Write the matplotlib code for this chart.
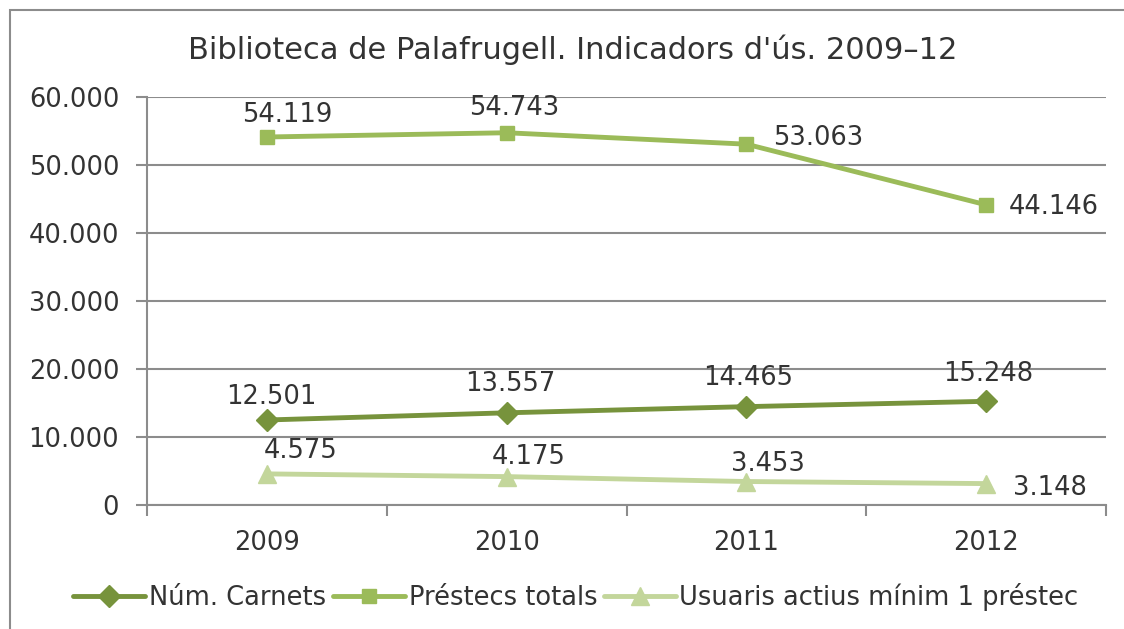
import numpy as np
import matplotlib.pyplot as plt
from matplotlib.patches import Rectangle

years = ['2009', '2010', '2011', '2012']
carnets = [12501, 13557, 14465, 15248]
prestecs = [54119, 54743, 53063, 44146]
usuaris = [4575, 4175, 3453, 3148]

series_names = ['Núm. Carnets', 'Préstecs totals', 'Usuaris actius mínim 1 préstec']

plt.rcParams['font.family'] = ['DejaVu Sans']
plt.rcParams['font.weight'] = 'normal'

fig = plt.figure(figsize=(11.24, 6.29), dpi=100)
ax = fig.add_axes([147 / 1124, 124 / 629, 959 / 1124, 408 / 629])

grid_col = '#8c8c8c'
text_col = '#333333'
fs = 18.5

x = np.arange(len(years))
styles = [
    (carnets, '#77933C', 'D', 11),
    (prestecs, '#9BBB59', 's', 10),
    (usuaris, '#C3D69B', '^', 13),
]
# label offsets in pixels (dx, dy) for each series / point
offsets = [
    [(4, 23), (4, 29), (2, 29), (2, 27)],
    [(20, 22), (8, 25), (72, 6), (68, -2)],
    [(34, 23), (22, 20), (22, 18), (64, -4)],
]

for (vals, col, mk, ms), name, offs in zip(styles, series_names, offsets):
    ax.plot(x, vals, color=col, lw=3.5, marker=mk, ms=ms, label=name,
            solid_capstyle='round', zorder=3)
    for xi, v, (dx, dy) in zip(x, vals, offs):
        ax.annotate(f'{v:,}'.replace(',', '.'), (xi, v), xytext=(dx, dy),
                    textcoords='offset pixels', ha='center', va='center',
                    fontsize=fs, color=text_col)

ax.set_xlim(-0.5, 3.5)
ax.set_ylim(0, 60000)
yt = np.arange(0, 60001, 10000)
ax.set_yticks(yt)
ax.set_yticklabels([f'{v:,}'.replace(',', '.') for v in yt])
ax.yaxis.grid(True, color=grid_col, lw=1.5)
ax.set_axisbelow(True)

ax.set_xticks(np.arange(-0.5, 3.6, 1))
ax.set_xticklabels([])
ax.set_xticks(x, minor=True)
ax.set_xticklabels(years, minor=True)
ax.tick_params(axis='x', which='major', length=8, width=1.5, color=grid_col, direction='out')
ax.tick_params(axis='x', which='minor', length=0, pad=18, labelsize=fs, labelcolor=text_col)
ax.tick_params(axis='y', length=8, width=1.5, color=grid_col, labelsize=fs,
               labelcolor=text_col, pad=12)

for s in ['top', 'right']:
    ax.spines[s].set_visible(False)
for s in ['left', 'bottom']:
    ax.spines[s].set_color(grid_col)
    ax.spines[s].set_linewidth(1.5)

fig.text(573 / 1124, 1 - 50 / 629, "Biblioteca de Palafrugell. Indicadors d'ús. 2009–12",
         ha='center', va='center', fontsize=22, color=text_col)

ax.legend(loc='center', bbox_to_anchor=(576 / 1124, 1 - 597 / 629),
          bbox_transform=fig.transFigure, ncol=3, frameon=False, fontsize=fs,
          handlelength=2.8, handletextpad=0.15, columnspacing=0.25, labelcolor=text_col)

fig.patches.append(Rectangle((10 / 1124, -0.01), 1.2, 1 - 10 / 629 + 0.01,
                             transform=fig.transFigure, fill=False,
                             edgecolor='#8c8c8c', lw=1.5))

fig.savefig('out.png', dpi=100)
